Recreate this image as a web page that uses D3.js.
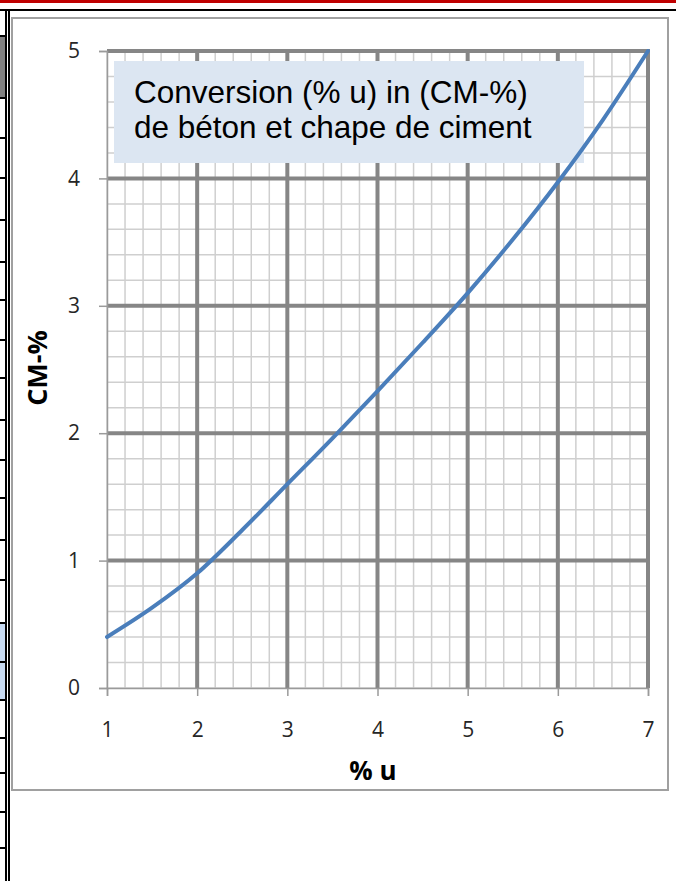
<!DOCTYPE html>
<html>
<head>
<meta charset="utf-8">
<script src="https://cdn.jsdelivr.net/npm/d3@7"></script>
<style>
  html, body { margin: 0; padding: 0; background: #fff; }
  svg { display: block; }
</style>
</head>
<body>
<script>
// data
const moisture = [1, 1.5, 2, 2.5, 3, 3.5, 4, 4.5, 5, 5.5, 6, 6.5, 7];
const cmValues = [0.40, 0.63, 0.90, 1.24, 1.60, 1.96, 2.33, 2.71, 3.10, 3.52, 3.97, 4.46, 5.00];
const xTicks = [1, 2, 3, 4, 5, 6, 7];
const yTicks = [0, 1, 2, 3, 4, 5];
const titleLines = ['Conversion (% u) in (CM-%)', 'de béton et chape de ciment'];

const svgWidth = 676;
const svgHeight = 881;

const svg = d3.select('body').append('svg')
    .attr('width', svgWidth)
    .attr('height', svgHeight);

// page decoration around the chart (document table)
svg.append('rect').attr('x', 0).attr('y', 0).attr('width', svgWidth).attr('height', 3).attr('fill', '#c00000');
svg.append('rect').attr('x', 0).attr('y', 9).attr('width', svgWidth).attr('height', 2).attr('fill', '#000');
svg.append('rect').attr('x', 0).attr('y', 36).attr('width', 6).attr('height', 62).attr('fill', '#7f7f7f');
svg.append('rect').attr('x', 0).attr('y', 623).attr('width', 6).attr('height', 77).attr('fill', '#c6d9f1');
const rowLines = [36, 98, 138, 178, 220, 262, 300, 340, 378, 420, 460, 498, 540, 580, 623, 662, 700, 738, 773, 812, 848];
svg.selectAll('.rowline').data(rowLines).enter().append('rect')
    .attr('x', 0).attr('y', d => d - 1).attr('width', 6).attr('height', 2).attr('fill', '#000');
svg.append('rect').attr('x', 5).attr('y', 10).attr('width', 2).attr('height', svgHeight).attr('fill', '#000');
svg.append('rect').attr('x', 8).attr('y', 10).attr('width', 2).attr('height', svgHeight).attr('fill', '#000');

// chart area frame
svg.append('rect')
    .attr('x', 12).attr('y', 18)
    .attr('width', 656).attr('height', 772)
    .attr('fill', '#fff')
    .attr('stroke', '#a0a0a0')
    .attr('stroke-width', 2);

const plot = { left: 107, right: 648, top: 51, bottom: 688 };

const x = d3.scaleLinear().domain([1, 7]).range([plot.left, plot.right]);
const y = d3.scaleLinear().domain([0, 5]).range([plot.bottom, plot.top]);

const g = svg.append('g');

// minor grid every 0.2
const minorX = d3.range(1, 7.001, 0.2).map(d => Math.round(d * 10) / 10);
const minorY = d3.range(0, 5.001, 0.2).map(d => Math.round(d * 10) / 10);

g.selectAll('.minor-x').data(minorX).enter().append('line')
    .attr('x1', d => x(d)).attr('x2', d => x(d))
    .attr('y1', plot.top).attr('y2', plot.bottom)
    .attr('stroke', '#cfcfcf').attr('stroke-width', 1.5);

g.selectAll('.minor-y').data(minorY).enter().append('line')
    .attr('x1', plot.left).attr('x2', plot.right)
    .attr('y1', d => y(d)).attr('y2', d => y(d))
    .attr('stroke', '#cfcfcf').attr('stroke-width', 1.5);

// major grid
g.selectAll('.major-x').data(xTicks.slice(1)).enter().append('line')
    .attr('x1', d => x(d)).attr('x2', d => x(d))
    .attr('y1', plot.top - 2).attr('y2', plot.bottom)
    .attr('stroke', '#868686').attr('stroke-width', 4);

g.selectAll('.major-y').data(yTicks.slice(1)).enter().append('line')
    .attr('x1', plot.left).attr('x2', plot.right + 2)
    .attr('y1', d => y(d)).attr('y2', d => y(d))
    .attr('stroke', '#868686').attr('stroke-width', 4);

// axes
const xAxis = g.append('g')
    .attr('transform', 'translate(0,' + plot.bottom + ')')
    .call(d3.axisBottom(x).tickValues(xTicks).tickFormat(d3.format('d')).tickSize(8).tickPadding(26));
const yAxis = g.append('g')
    .attr('transform', 'translate(' + plot.left + ',0)')
    .call(d3.axisLeft(y).tickValues(yTicks).tickFormat(d3.format('d')).tickSize(8).tickPadding(19));

[xAxis, yAxis].forEach(ax => {
    ax.attr('font-size', 21).attr('font-family', '"Open Sans", sans-serif');
    ax.select('.domain').attr('stroke', '#9a9a9a').attr('stroke-width', 1.5);
    ax.selectAll('.tick line').attr('stroke', '#9a9a9a').attr('stroke-width', 1.5);
    ax.selectAll('.tick text').attr('fill', '#262626');
});

// title box
const box = svg.append('g');
box.append('rect')
    .attr('x', 114).attr('y', 61)
    .attr('width', 470).attr('height', 102)
    .attr('fill', '#dce6f2');
box.selectAll('text').data(titleLines).enter().append('text')
    .attr('x', 134)
    .attr('y', (d, i) => 103 + i * 35)
    .attr('fill', '#000')
    .style('font-family', '"Liberation Sans", Arial, sans-serif')
    .style('font-size', '31.5px')
    .text(d => d);

// curve
const line = d3.line()
    .x((d, i) => x(moisture[i]))
    .y(d => y(d))
    .curve(d3.curveMonotoneX);

svg.append('path')
    .datum(cmValues)
    .attr('d', line)
    .attr('fill', 'none')
    .attr('stroke', '#4a7ebb')
    .attr('stroke-width', 4)
    .attr('stroke-linecap', 'round');

// axis titles
svg.append('text')
    .attr('x', 373).attr('y', 780)
    .attr('text-anchor', 'middle')
    .style('font-family', '"Open Sans", sans-serif')
    .style('font-weight', 'bold')
    .style('font-size', '26px')
    .attr('fill', '#000')
    .text('% u');

svg.append('text')
    .attr('transform', 'translate(47,368) rotate(-90)')
    .attr('text-anchor', 'middle')
    .style('font-family', '"Open Sans", sans-serif')
    .style('font-weight', 'bold')
    .style('font-size', '27px')
    .attr('fill', '#000')
    .text('CM-%');
</script>
</body>
</html>
